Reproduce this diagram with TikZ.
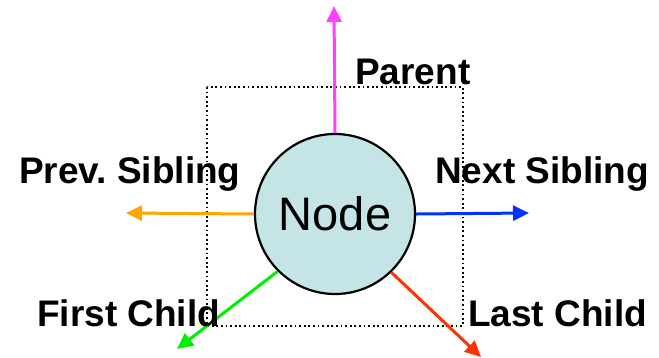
\documentclass[tikz,border=0pt]{standalone}
\usepackage{fontspec}
\setmainfont{Liberation Sans}
\usetikzlibrary{arrows.meta}
\definecolor{nodefill}{RGB}{196,228,230}
\definecolor{cpink}{RGB}{255,64,255}
\definecolor{corange}{RGB}{255,166,0}
\definecolor{cblue}{RGB}{0,51,255}
\definecolor{cgreen}{RGB}{0,238,0}
\definecolor{cred}{RGB}{255,51,0}
\tikzset{
  lbl/.style={anchor=base west, inner sep=0pt, font=\fontsize{37}{42}\selectfont\bfseries},
  link/.style={line width=3pt, -{Triangle[length=16pt,width=15pt]}},
  frame/.style={line width=1.8pt, dash pattern=on 1.8pt off 2.8pt},
}
\begin{document}
\frenchspacing
\begin{tikzpicture}[x=1pt,y=-1pt]
\useasboundingbox (0,0) rectangle (659,357);
\draw[frame] (207,87) rectangle (463,326);
\node[circle, draw=black, line width=2.2pt, fill=nodefill, minimum size=160pt, inner sep=0pt,
      font=\fontsize{47}{52}\selectfont] (n) at (335,214) {Node};
\coordinate (up) at (334,6);
\coordinate (left) at (126,213);
\coordinate (right) at (529,213);
\coordinate (dl) at (177,349);
\coordinate (dr) at (481,357);
\draw[link, cpink] (n.north) -- (up);
\draw[link, corange] (n.west) -- (left);
\draw[link, cblue] (n.east) -- (right);
\draw[link, cgreen] (n.-135) -- (dl);
\draw[link, cred] (n.-46) -- (dr);
\node[lbl] (parent) at (355,84) {Parent};
\node[lbl] (prev) at (19,183) {Prev.\ Sibling};
\node[lbl] (next) at (435,183) {Next Sibling};
\node[lbl] (first) at (37,326) {First Child};
\node[lbl] (last) at (468,326) {Last Child};
\end{tikzpicture}
\end{document}
